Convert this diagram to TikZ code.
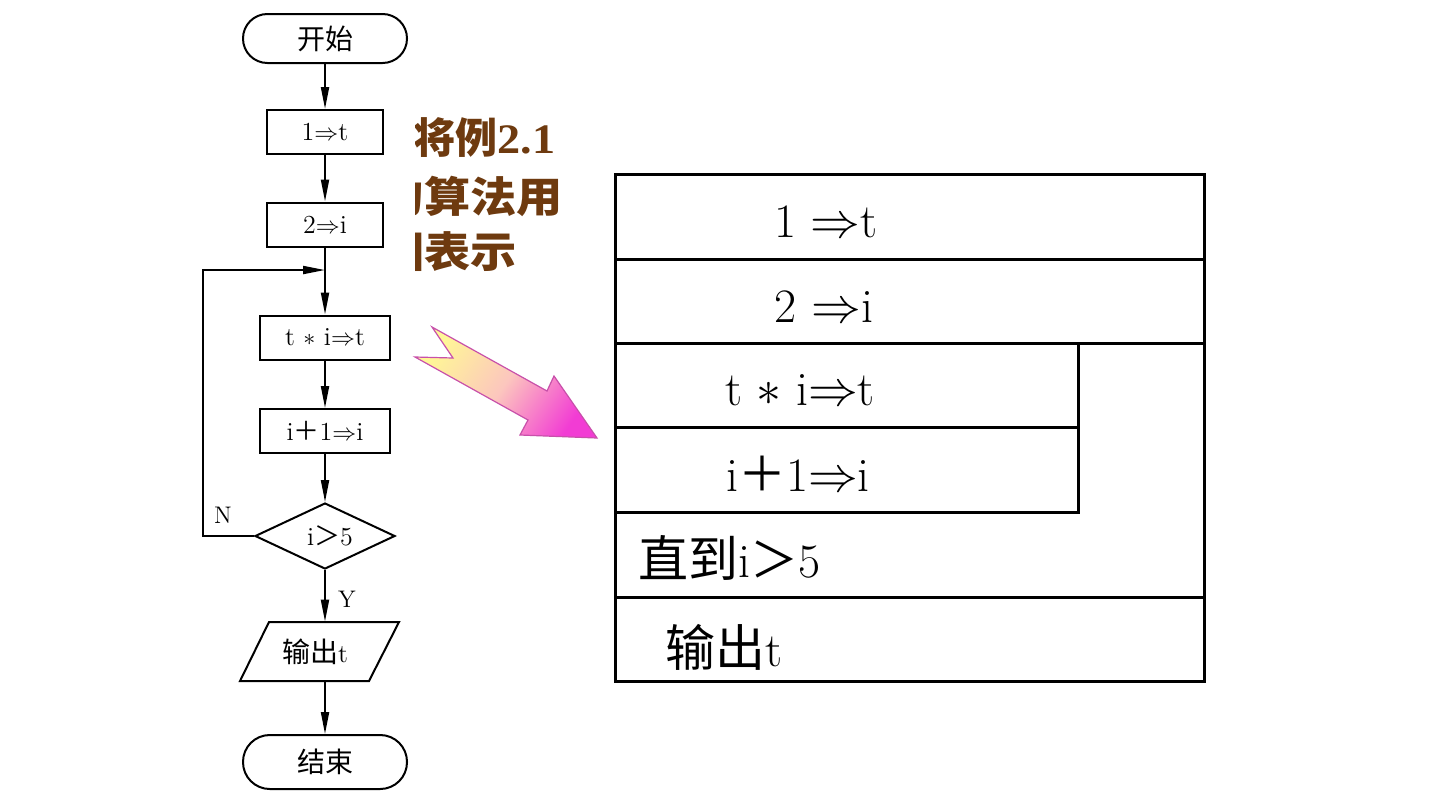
\documentclass[tikz,border=0pt]{standalone}
\usepackage{fontspec}
\usetikzlibrary{arrows.meta,shapes.geometric}
\newfontfamily\cjk{Noto Sans CJK SC}
\newfontfamily\tms{Liberation Serif}
\definecolor{brownT}{RGB}{110,58,15}
\definecolor{arrY}{RGB}{255,247,150}
\definecolor{arrP}{RGB}{252,198,190}
\definecolor{arrM}{RGB}{242,60,212}
\definecolor{arrE}{RGB}{200,80,170}
\newcommand{\fwplus}{{\cjk ＋}}
\newcommand{\fwgt}{{\cjk ＞}}
\begin{document}
\begin{tikzpicture}[x=0.5pt,y=-0.5pt,
  fl/.style={line width=1pt},
  arr/.style={fl,-{Triangle[length=11pt,width=4pt]}},
  term/.style={draw,fl,minimum width=82pt,inner sep=0pt,font=\fontsize{14}{16}\selectfont\cjk},
  box/.style={draw,fl,minimum height=22pt,inner sep=0pt,font=\fontsize{13}{15}\selectfont},
  lbl/.style={inner sep=0pt,font=\fontsize{12}{14}\selectfont},
  ns/.style={line width=1.5pt},
  nsT/.style={inner sep=0pt,font=\fontsize{24}{28}\selectfont},
  brw/.style={inner sep=0pt,text=brownT,font=\fontsize{21}{24}\selectfont\bfseries}
]
\useasboundingbox[fill=white] (0,0) rectangle (1440,810);

% ---------- flowchart ----------
\node[term,minimum height=24.5pt,rounded corners=12.2pt] (start) at (325,38.5) {开始};
\node[box,minimum width=58pt] (b1) at (325,132) {1$\Rightarrow$t};
\node[box,minimum width=58pt] (b2) at (325,224.5) {2$\Rightarrow$i};
\node[box,minimum width=65pt] (b3) at (325,337.5) {t $*$ i$\Rightarrow$t};
\node[box,minimum width=65pt] (b4) at (325,431) {i\fwplus1$\Rightarrow$i};
\node[draw,fl,diamond,aspect=2.1,minimum width=70pt,minimum height=33pt,inner sep=0pt,
      font=\fontsize{13}{15}\selectfont] (dia) at (325,536) {\hspace{5pt}i\fwgt5};
\node[inner sep=0pt,minimum height=29.5pt,font=\fontsize{13}{15}\selectfont] (out) at (315,651.5) {{\cjk\fontsize{14}{16}\selectfont 输出}t};
\draw[fl] (269,622) -- (399,622) -- (369,681) -- (240,681) -- cycle;
\node[term,minimum height=27pt,rounded corners=13.4pt] (end) at (325,762) {结束};

\coordinate (join) at (325,270);
\coordinate (lc) at (203,270);

\draw[arr] (start) -- (b1);
\draw[arr] (b1) -- (b2);
\draw[arr] (b2) -- (b3);
\draw[arr] (b3) -- (b4);
\draw[arr] (b4) -- (dia);
\draw[arr] (dia.south) -- (dia.south |- out.north);
\draw[arr] (dia.south |- out.south) -- (end.north);
\draw[arr] (dia.west) -| (lc) -- (join);
\node[lbl] (nlab) at (223,515) {N};
\node[lbl] (ylab) at (347,599) {Y};

% ---------- title text (partly hidden) ----------
\begin{scope}
\clip (415,100) rectangle (620,290);
\node[brw,anchor=east] (t1) at (556,138) {{\cjk 将例}\scalebox{1.1}[1]{\tms 2.1}};
\node[brw,anchor=east] (t2) at (563,196) {\scalebox{1.1}[1]{\cjk 的算法用}};
\node[brw,anchor=east] (t3) at (517,252) {\scalebox{1.1}[1]{\cjk 图表示}};
\end{scope}

% ---------- gradient arrow ----------
\path[draw=arrE,line width=0.6pt,top color=arrY,bottom color=arrM,middle color=arrP,shading angle=56]
  (432,327) -- (547,391) -- (554,376) -- (597,438) -- (520,435) -- (528,420) -- (415,357) -- (453,358) -- cycle;

% ---------- N-S diagram ----------
\draw[ns] (615,174) rectangle (1204,681);
\draw[ns] (615,259) -- (1204,259);
\draw[ns] (615,343) -- (1204,343);
\draw[ns] (615,427) -- (1078,427);
\draw[ns] (615,512) -- (1078,512) -- (1078,343);
\draw[ns] (615,597) -- (1204,597);

\node[nsT] (r1) at (826,222) {1 $\Rightarrow$t};
\node[nsT] (r2) at (824,307) {2 $\Rightarrow$i};
\node[nsT] (r3) at (800,390) {t $*$ i$\Rightarrow$t};
\node[nsT] (r4) at (798,474) {i\fwplus1$\Rightarrow$i};
\node[nsT,anchor=west] (r5) at (638,558) {{\cjk\fontsize{25}{28}\selectfont 直到}i\fwgt5};
\node[nsT,anchor=west] (r6) at (665,647) {{\cjk\fontsize{25}{28}\selectfont 输出}t};
\end{tikzpicture}
\end{document}
